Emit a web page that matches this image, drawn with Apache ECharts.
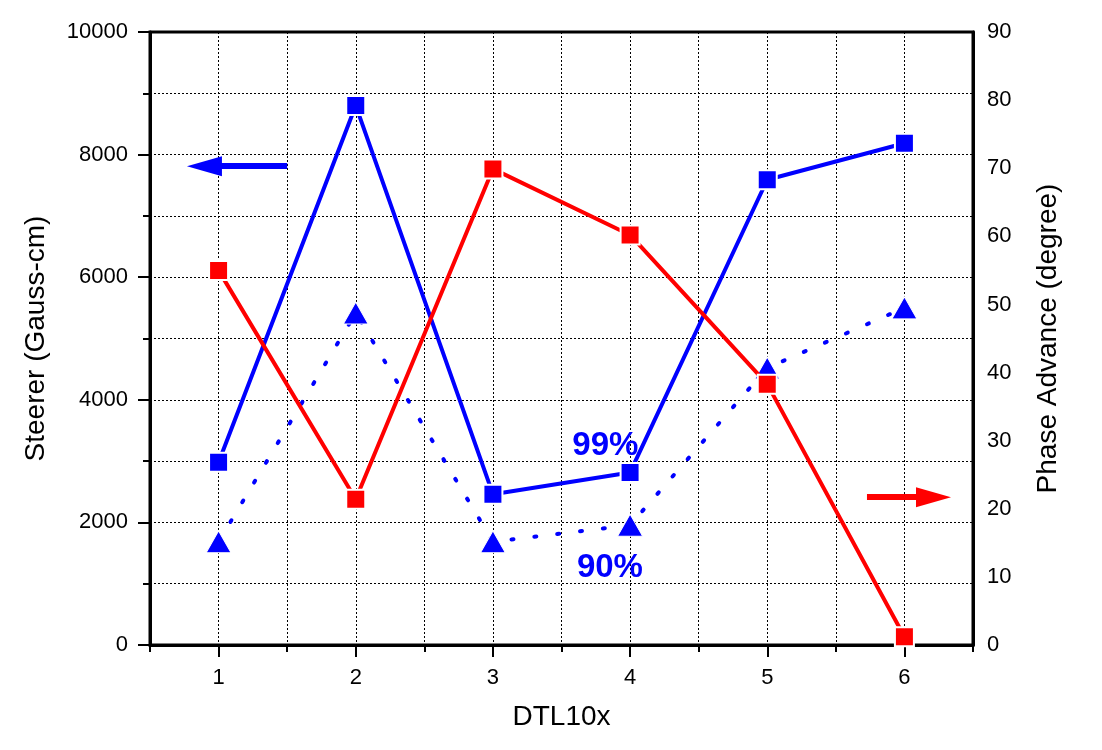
<!DOCTYPE html>
<html>
<head>
<meta charset="utf-8">
<script src="https://cdn.jsdelivr.net/npm/echarts@6/dist/echarts.min.js"></script>
<style>
  html, body { margin: 0; padding: 0; background: #fff; }
  #chart { width: 1102px; height: 750px; }
</style>
</head>
<body>
<div id="chart"></div>
<script>
// DTL10x steerer strength (left axis) and phase advance (right axis)
var positions = [1, 2, 3, 4, 5, 6];
var steerer99 = [2980, 8800, 2460, 2815, 7590, 8185];
var steerer90 = [1685, 5415, 1685, 1955, 4520, 5500];
var phaseAdvance = [55.0, 21.4, 69.9, 60.2, 38.3, 1.2];

// annotation anchors, in data units
var leftArrow = [[1.5, 7810], [0.897, 7810]];
var rightArrow = [[5.727, 21.7], [6.212, 21.7]];
var label99 = [3.82, 3250];
var label90 = [3.853, 1256];

var BLUE = '#0000ff';
var RED = '#ff0000';
var FONT = 'Liberation Sans, Arial, sans-serif';

function pairs(xs, ys) {
  return xs.map(function (x, i) { return [x, ys[i]]; });
}

var chart = echarts.init(document.getElementById('chart'));

var textLabel = function (txt) {
  return {
    show: true, position: 'inside', formatter: txt,
    color: BLUE, fontSize: 33, fontWeight: 'bold', fontFamily: FONT
  };
};

var option = {
  animation: false,
  grid: {
    left: 150, right: 129, top: 32, bottom: 105,
    show: true, borderColor: '#000', borderWidth: 3
  },
  xAxis: [
    {
      type: 'value', min: 0.5, max: 6.5, interval: 0.5,
      name: 'DTL10x', nameLocation: 'middle', nameGap: 58,
      nameTextStyle: { fontSize: 28, fontFamily: FONT, color: '#000' },
      axisLine: { lineStyle: { color: '#000', width: 3 } },
      axisTick: { length: 7, lineStyle: { color: '#000', width: 2 } },
      axisLabel: {
        margin: 22, fontSize: 22, fontFamily: FONT, color: '#000',
        formatter: function (v) { return Number.isInteger(v) ? String(v) : ''; }
      },
      splitLine: { show: true, lineStyle: { color: '#000', type: [2, 2], width: 1 } }
    },
    {
      // integer positions get the longer ticks
      type: 'value', min: 0.5, max: 6.5, interval: 1, position: 'bottom',
      axisLine: { show: false },
      axisTick: { show: false },
      axisLabel: { show: false },
      splitLine: { show: false },
      minorTick: { show: true, splitNumber: 2, length: 12, lineStyle: { color: '#000', width: 2 } }
    }
  ],
  yAxis: [
    {
      type: 'value', min: 0, max: 10000, interval: 2000, position: 'left',
      name: 'Steerer (Gauss-cm)', nameLocation: 'middle', nameGap: 100, nameRotate: 90,
      nameTextStyle: { fontSize: 28, fontFamily: FONT, color: '#000' },
      axisLine: { show: true, lineStyle: { color: '#000', width: 3 } },
      axisTick: { show: true, length: 12, lineStyle: { color: '#000', width: 2 } },
      minorTick: { show: true, splitNumber: 2, length: 7, lineStyle: { color: '#000', width: 2 } },
      axisLabel: {
        margin: 22, fontSize: 22, fontFamily: FONT, color: '#000',
        formatter: function (v) { return String(v); }
      },
      splitLine: { show: true, lineStyle: { color: '#000', type: [2, 2], width: 1 } },
      minorSplitLine: { show: true, lineStyle: { color: '#000', type: [2, 2], width: 1 } }
    },
    {
      type: 'value', min: 0, max: 90, interval: 10, position: 'right',
      name: 'Phase Advance (degree)', nameLocation: 'middle', nameGap: 61, nameRotate: 90,
      nameTextStyle: { fontSize: 28, fontFamily: FONT, color: '#000' },
      axisLine: { show: true, lineStyle: { color: '#000', width: 3 } },
      axisTick: { show: false },
      axisLabel: { margin: 14, fontSize: 22, fontFamily: FONT, color: '#000' },
      splitLine: { show: false }
    }
  ],
  series: [
    {
      name: '99%', type: 'line', xAxisIndex: 0, yAxisIndex: 0,
      data: pairs(positions, steerer99),
      symbol: 'rect', symbolSize: 19,
      itemStyle: { color: BLUE, borderColor: '#fff', borderWidth: 2 },
      lineStyle: { color: BLUE, width: 4 },
      markLine: {
        silent: true, symbol: ['none', 'triangle'], symbolSize: [20, 35],
        label: { show: false },
        lineStyle: { color: BLUE, width: 6, type: 'solid' },
        data: [[{ coord: leftArrow[0] }, { coord: leftArrow[1] }]]
      },
      markPoint: {
        silent: true, symbol: 'rect', symbolSize: 1,
        itemStyle: { color: 'rgba(0,0,0,0)' },
        data: [{ coord: label99, label: textLabel('99%') }]
      },
      z: 3
    },
    {
      name: '90%', type: 'line', xAxisIndex: 0, yAxisIndex: 0,
      data: pairs(positions, steerer90),
      symbol: 'triangle', symbolSize: [25, 22],
      itemStyle: { color: BLUE, borderColor: '#fff', borderWidth: 1 },
      lineStyle: { color: BLUE, width: 4, type: [2, 21], cap: 'round' },
      markPoint: {
        silent: true, symbol: 'rect', symbolSize: 1,
        itemStyle: { color: 'rgba(0,0,0,0)' },
        data: [{ coord: label90, label: textLabel('90%') }]
      },
      z: 3
    },
    {
      name: 'Phase Advance', type: 'line', xAxisIndex: 0, yAxisIndex: 1,
      data: pairs(positions, phaseAdvance),
      symbol: 'rect', symbolSize: 19,
      itemStyle: { color: RED, borderColor: '#fff', borderWidth: 2 },
      lineStyle: { color: RED, width: 4 },
      markLine: {
        silent: true, symbol: ['none', 'triangle'], symbolSize: [20, 35],
        label: { show: false },
        lineStyle: { color: RED, width: 6, type: 'solid' },
        data: [[{ coord: rightArrow[0] }, { coord: rightArrow[1] }]]
      },
      z: 4
    }
  ]
};

chart.setOption(option);
</script>
</body>
</html>
